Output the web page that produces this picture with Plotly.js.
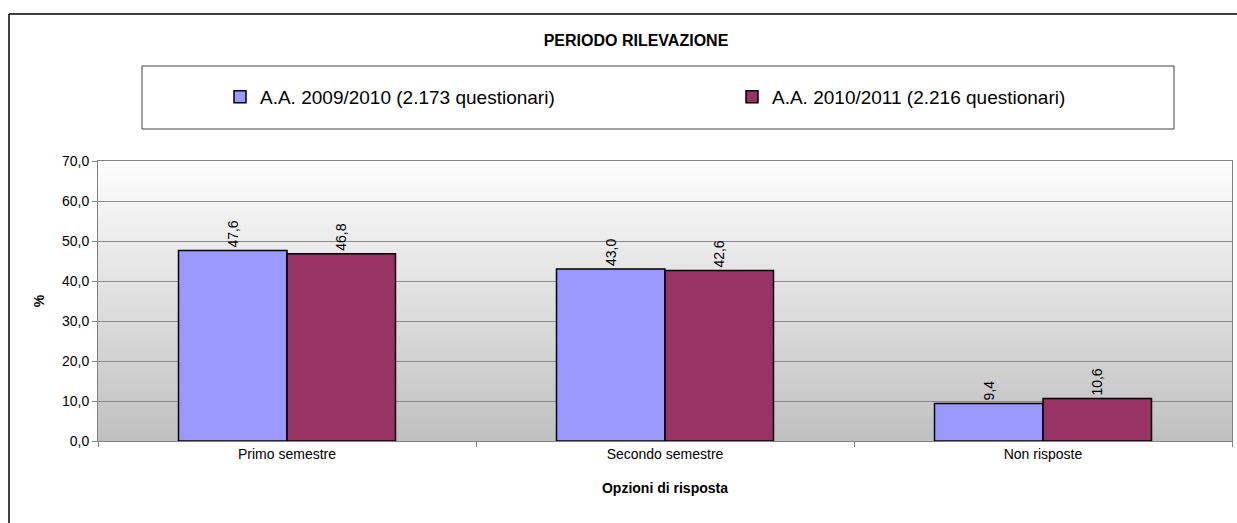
<!DOCTYPE html>
<html>
<head>
<meta charset="utf-8">
<script src="https://cdn.plot.ly/plotly-3.0.1.min.js"></script>
<style>
  html, body { margin: 0; padding: 0; background: #fff; }
  #chart { width: 1237px; height: 523px; }
</style>
</head>
<body>
<div id="chart"></div>
<script>
const categories = ['Primo semestre', 'Secondo semestre', 'Non risposte'];
const series2009 = [47.6, 43.0, 9.4];
const series2010 = [46.8, 42.6, 10.6];
const seriesNames = ['A.A. 2009/2010 (2.173 questionari)', 'A.A. 2010/2011 (2.216 questionari)'];
const yTickValues = [0, 10, 20, 30, 40, 50, 60, 70];

const W = 1237, H = 523;
const M = { l: 98, r: 5, t: 161, b: 82 };
const PW = W - M.l - M.r, PH = H - M.t - M.b;
const px = x => (x - M.l) / PW;
const py = y => (H - M.b - y) / PH;

const FONT = 'Liberation Sans, Arial, sans-serif';

const gradSvg = '<svg xmlns="http://www.w3.org/2000/svg" width="10" height="100" preserveAspectRatio="none">' +
  '<defs><linearGradient id="g" x1="0" y1="0" x2="0" y2="1">' +
  '<stop offset="0" stop-color="#fdfdfd"/><stop offset="1" stop-color="#c0c0c0"/>' +
  '</linearGradient></defs><rect width="10" height="100" fill="url(#g)"/></svg>';
const gradUri = 'data:image/svg+xml;base64,' + btoa(gradSvg);

const barCommon = {
  type: 'bar',
  x: categories,
  textposition: 'outside',
  textangle: -90,
  texttemplate: '%{y:.1f}',
  textfont: { family: FONT, size: 14, color: '#000' },
  constraintext: 'none',
  cliponaxis: false,
  hoverinfo: 'skip'
};

const traces = [
  Object.assign({}, barCommon, {
    name: seriesNames[0], y: series2009, legend: 'legend',
    marker: { color: '#9999FF', line: { color: '#000', width: 1.5 } }
  }),
  Object.assign({}, barCommon, {
    name: seriesNames[1], y: series2010, legend: 'legend2',
    marker: { color: '#993366', line: { color: '#000', width: 1.5 } }
  })
];

const legendCommon = {
  orientation: 'h',
  xanchor: 'left',
  y: py(97), yanchor: 'middle',
  bgcolor: 'rgba(0,0,0,0)',
  borderwidth: 0,
  font: { family: FONT, size: 19, color: '#000' },
  itemclick: false, itemdoubleclick: false
};

const layout = {
  width: W, height: H,
  margin: M,
  paper_bgcolor: '#ffffff',
  plot_bgcolor: 'rgba(0,0,0,0)',
  separators: ',.',
  font: { family: FONT, size: 14, color: '#000' },
  barmode: 'group',
  bargap: 0.426,
  bargroupgap: 0,
  showlegend: true,
  title: {
    text: '<b>PERIODO RILEVAZIONE</b>',
    font: { family: FONT, size: 16, color: '#000' },
    xref: 'paper', x: px(636), xanchor: 'center',
    yref: 'container', y: 1 - 40 / H, yanchor: 'middle'
  },
  legend: Object.assign({}, legendCommon, { x: px(220) }),
  legend2: Object.assign({}, legendCommon, { x: px(732) }),
  xaxis: {
    type: 'category',
    showline: true, linecolor: '#808080', linewidth: 1, mirror: true,
    ticks: 'outside', tickson: 'boundaries', ticklen: 5, tickcolor: '#808080',
    tickfont: { family: FONT, size: 14, color: '#000' },
    showgrid: false,
    title: { text: '<b>Opzioni di risposta</b>', font: { family: FONT, size: 14, color: '#000' }, standoff: 22 },
    fixedrange: true
  },
  yaxis: {
    range: [0, 70],
    tickvals: yTickValues,
    tickformat: '.1f',
    showline: true, linecolor: '#808080', linewidth: 1, mirror: true,
    ticks: 'outside', ticklen: 5, tickcolor: '#808080',
    tickfont: { family: FONT, size: 14, color: '#000' },
    showgrid: true, gridcolor: '#8a8a8a', gridwidth: 1,
    zeroline: false,
    title: { text: '<b>%</b>', font: { family: FONT, size: 14, color: '#000' }, standoff: 14 },
    fixedrange: true
  },
  images: [{
    source: gradUri, xref: 'paper', yref: 'paper',
    x: 0, y: 1, sizex: 1, sizey: 1, xanchor: 'left', yanchor: 'top',
    sizing: 'stretch', layer: 'below'
  }],
  shapes: [
    { type: 'line', xref: 'paper', yref: 'paper',
      x0: px(9), x1: px(9), y0: py(600), y1: py(14),
      line: { color: '#000', width: 1.5 }, layer: 'above' },
    { type: 'line', xref: 'paper', yref: 'paper',
      x0: px(9), x1: px(1300), y0: py(14), y1: py(14),
      line: { color: '#000', width: 1.5 }, layer: 'above' },
    { type: 'rect', xref: 'paper', yref: 'paper',
      x0: px(142), x1: px(1174), y0: py(129), y1: py(66),
      line: { color: '#404040', width: 1 }, fillcolor: 'rgba(0,0,0,0)', layer: 'above' }
  ]
};

Plotly.newPlot('chart', traces, layout, { displayModeBar: false, staticPlot: true });
</script>
</body>
</html>
